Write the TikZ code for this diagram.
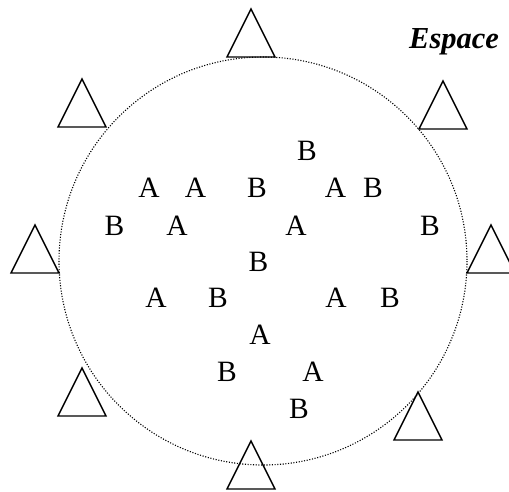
\documentclass[tikz,border=0pt]{standalone}
\usepackage{fontspec}
\setmainfont{Liberation Serif}
\begin{document}
\begin{tikzpicture}[x=1pt,y=-1pt,
  tri/.style={draw=black,line width=1.4pt,line join=miter},
  lab/.style={font=\fontsize{29.5}{30}\selectfont,inner sep=0pt,anchor=center},
  ring/.style={draw=black,line width=1.1pt,dash pattern=on 1.1pt off 1.6pt}]
\useasboundingbox (0,0) rectangle (509,491);
\clip (0,0) rectangle (509,491);
\draw[ring] (263,261) circle[radius=204];
% triangles (apex given; width 48, height 48)
\foreach \ax/\ay in {251/9, 82/79, 443/81, 35/225, 491/225, 82/368, 418/392, 251/441}{
  \draw[tri] (\ax,\ay) -- ++(24,48) -- ++(-48,0) -- cycle;
}
\node[font=\fontsize{30.5}{31}\selectfont\bfseries\itshape,anchor=base west,inner sep=0pt] (esp) at (409,48.5) {Espace};
% letters
\node[lab] (b0) at (307,151) {B};
\node[lab] (a1) at (149,188) {A};
\node[lab] (a2) at (195.5,188) {A};
\node[lab] (b1) at (257,188) {B};
\node[lab] (a3) at (335.5,188) {A};
\node[lab] (b2) at (373,188) {B};
\node[lab] (b3) at (114.5,226) {B};
\node[lab] (a4) at (177,226) {A};
\node[lab] (a5) at (296,226) {A};
\node[lab] (b4) at (430,226) {B};
\node[lab] (b5) at (258.5,262) {B};
\node[lab] (a6) at (156,298) {A};
\node[lab] (b6) at (218,298) {B};
\node[lab] (a7) at (336,298) {A};
\node[lab] (b7) at (390,298) {B};
\node[lab] (a8) at (260,335) {A};
\node[lab] (b8) at (227,372) {B};
\node[lab] (a9) at (313,372) {A};
\node[lab] (b9) at (299,409) {B};
\end{tikzpicture}
\end{document}
